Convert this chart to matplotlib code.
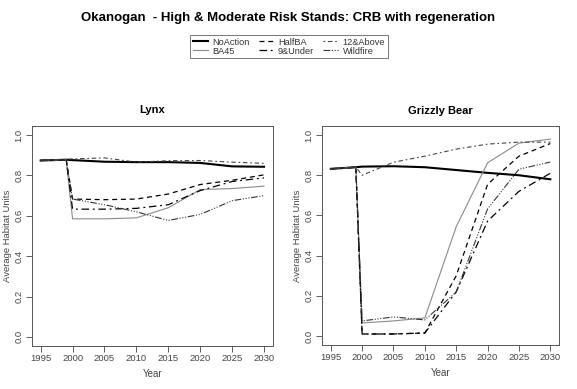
import matplotlib
matplotlib.use("Agg")
import matplotlib.pyplot as plt

plt.rcParams['font.family'] = ['Liberation Sans', 'DejaVu Sans']

years = [1995, 1999, 2000, 2005, 2010, 2015, 2020, 2025, 2030]
xticks = [1995, 2000, 2005, 2010, 2015, 2020, 2025, 2030]
yticks = [0.0, 0.2, 0.4, 0.6, 0.8, 1.0]

scenarios = ["NoAction", "BA45", "HalfBA", "9&Under", "12&Above", "Wildfire"]

# Lynx panel values
lynx_noaction = [0.874, 0.878, 0.876, 0.868, 0.866, 0.866, 0.862, 0.845, 0.843]
lynx_ba45 = [0.874, 0.878, 0.585, 0.585, 0.590, 0.640, 0.730, 0.735, 0.747]
lynx_halfba = [0.874, 0.878, 0.683, 0.680, 0.683, 0.708, 0.755, 0.776, 0.803]
lynx_9under = [0.874, 0.878, 0.633, 0.633, 0.637, 0.655, 0.725, 0.770, 0.788]
lynx_12above = [0.874, 0.880, 0.882, 0.887, 0.866, 0.873, 0.874, 0.866, 0.860]
lynx_wildfire = [0.874, 0.878, 0.683, 0.655, 0.620, 0.577, 0.607, 0.675, 0.700]

# Grizzly Bear panel values
griz_noaction = [0.832, 0.840, 0.843, 0.845, 0.840, 0.826, 0.812, 0.800, 0.780]
griz_ba45 = [0.832, 0.840, 0.065, 0.075, 0.090, 0.544, 0.862, 0.960, 0.980]
griz_halfba = [0.832, 0.840, 0.010, 0.010, 0.015, 0.300, 0.755, 0.895, 0.958]
griz_9under = [0.832, 0.840, 0.010, 0.010, 0.015, 0.220, 0.572, 0.720, 0.810]
griz_12above = [0.832, 0.840, 0.800, 0.865, 0.895, 0.930, 0.955, 0.965, 0.965]
griz_wildfire = [0.832, 0.840, 0.075, 0.095, 0.080, 0.219, 0.633, 0.830, 0.866]

styles = {
    "NoAction": dict(color="black", lw=1.5, ls="-"),
    "BA45": dict(color="#8a8a8a", lw=0.8, ls="-"),
    "HalfBA": dict(color="black", lw=0.9, ls=(0, (4, 3))),
    "9&Under": dict(color="black", lw=0.9, ls=(0, (6, 3, 1.5, 3))),
    "12&Above": dict(color="#444444", lw=0.8, ls=(0, (1.5, 2.5, 4, 2.5))),
    "Wildfire": dict(color="#333333", lw=0.8, ls=(0, (6, 1.5, 1, 1.5, 1, 1.5, 1, 1.5))),
}

panels = [
    ("Lynx", [0.055, 0.1105, 0.418, 0.5656],
     [lynx_noaction, lynx_ba45, lynx_halfba, lynx_9under, lynx_12above, lynx_wildfire]),
    ("Grizzly Bear", [0.558, 0.113, 0.411, 0.563],
     [griz_noaction, griz_ba45, griz_halfba, griz_9under, griz_12above, griz_wildfire]),
]

fig = plt.figure(figsize=(5.77, 3.89), dpi=100)
fig.text(0.5, 0.955, "Okanogan  - High & Moderate Risk Stands: CRB with regeneration",
         ha="center", va="center", fontsize=9.5, fontweight="bold")

handles = []
for title, rect, series in panels:
    ax = fig.add_axes(rect)
    handles = []
    for name, vals in zip(scenarios, series):
        h, = ax.plot(years, vals, label=name, **styles[name])
        handles.append(h)
    ax.set_xlim(1993.6, 2031.4)
    ax.set_ylim(-0.045, 1.045)
    ax.set_xticks(xticks)
    ax.set_yticks(yticks)
    ax.set_yticklabels(["%.1f" % v for v in yticks], rotation=90, va="center")
    ax.tick_params(labelsize=6.8, colors="#444444", length=4, width=0.6, pad=2)
    for sp in ax.spines.values():
        sp.set_color("#555555")
        sp.set_linewidth(0.7)
    ax.set_title(title, fontsize=8, fontweight="bold", pad=9)
    ax.set_xlabel("Year", fontsize=7, color="#444444", labelpad=4)
    ax.set_ylabel("Average Habitat Units", fontsize=6.8, color="#444444", labelpad=2)

leg = fig.legend(handles, scenarios,
                 loc="center", bbox_to_anchor=(0.501, 0.88), ncol=3,
                 fontsize=6.6, frameon=True, fancybox=False, handlelength=1.6,
                 handletextpad=0.5, columnspacing=1.0, borderpad=0.3,
                 labelspacing=0.0, edgecolor="#555555")
leg.get_frame().set_linewidth(0.7)
for t in leg.get_texts():
    t.set_color("#333333")

fig.savefig("out.png", dpi=100)
